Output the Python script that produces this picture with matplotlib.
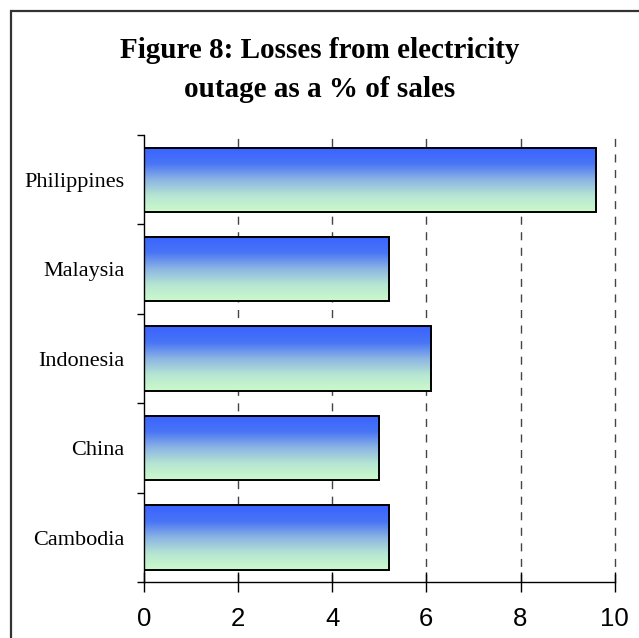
import numpy as np
import matplotlib
matplotlib.use("Agg")
import matplotlib.pyplot as plt
from matplotlib.colors import LinearSegmentedColormap
from matplotlib.patches import Rectangle

# Losses from electricity outage, % of sales
countries = ["Cambodia", "China", "Indonesia", "Malaysia", "Philippines"]
losses = [5.2, 5.0, 6.1, 5.2, 9.6]
x_ticks = [0, 2, 4, 6, 8, 10]
title = "Figure 8: Losses from electricity\noutage as a % of sales"

plt.rcParams["lines.scale_dashes"] = False
serif = ["Liberation Serif", "DejaVu Serif"]
sans = ["Liberation Sans", "DejaVu Sans"]

W, H = 639, 638
fig = plt.figure(figsize=(W / 100, H / 100), dpi=100)

# outer chart frame
frame = Rectangle((11 / W, -0.2), 1.3, 1.2 - 11 / H, transform=fig.transFigure,
                  fill=False, edgecolor="#333333", linewidth=1.6, clip_on=False)
fig.patches.append(frame)

ax = fig.add_axes([143.7 / W, (H - 582.3) / H, 471 / W, (582.3 - 135) / H])

ypos = np.arange(len(countries))
bars = ax.barh(ypos, losses, height=0.72, color="none", edgecolor="black",
               linewidth=1.4, zorder=3)

# blue (top) to pale green (bottom) gradient inside each bar
grad_cmap = LinearSegmentedColormap.from_list(
    "bar_grad", ["#3A63FF", "#4874F6", "#8CB4E4", "#B6E6D2", "#CCFACA"])
grad = np.linspace(0, 1, 256).reshape(-1, 1)
for b in bars:
    x0, y0 = b.get_x(), b.get_y()
    im = ax.imshow(grad, cmap=grad_cmap, aspect="auto", origin="upper",
                   extent=(x0, x0 + b.get_width(), y0, y0 + b.get_height()),
                   zorder=2, interpolation="bilinear")
    im.set_clip_path(b)

ax.set_xlim(0, 10)
ax.set_ylim(-0.5, len(countries) - 0.5)

for s in ["top", "right"]:
    ax.spines[s].set_visible(False)
for s in ["left", "bottom"]:
    ax.spines[s].set_linewidth(1.0)
    ax.spines[s].set_zorder(4)

ax.set_xticks(x_ticks)
ax.set_xticklabels([str(t) for t in x_ticks], family=sans, fontsize=18.5)
ax.tick_params(axis="x", direction="inout", length=14, width=1.0, pad=11)

ax.set_yticks(np.arange(-0.5, len(countries), 1.0))
ax.set_yticklabels([])
ax.set_yticks(ypos, minor=True)
ax.set_yticklabels(countries, minor=True, family=serif, fontsize=16)
ax.tick_params(axis="y", which="major", direction="out", length=5, width=1.0)
ax.tick_params(axis="y", which="minor", length=0, pad=14)

for xv in x_ticks[1:]:
    ax.axvline(xv, color="#444444", linewidth=1.0, dashes=(5.8, 5.4),
               zorder=1, clip_on=False)

ax.set_facecolor("none")

fig.text(0.5, 1 - 70 / H, title, ha="center", va="center", family=serif,
         fontweight="bold", fontsize=21, linespacing=1.55)

fig.savefig("out.png", dpi=100)
